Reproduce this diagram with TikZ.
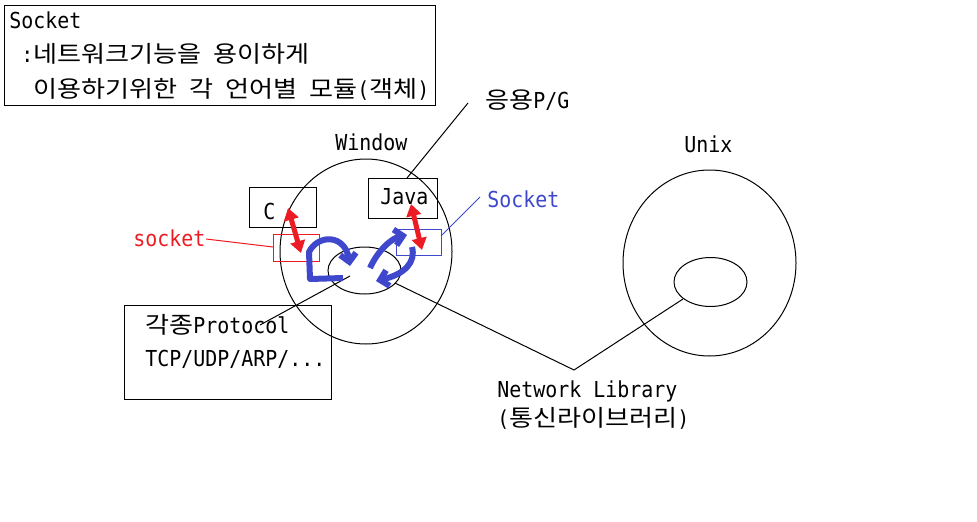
\documentclass[tikz,border=0pt]{standalone}
\usepackage{fontspec}
\setmainfont[FakeStretch=0.906]{DejaVu Sans Mono}
\newfontfamily\hangulfont[Scale=1.05,FakeStretch=1.13]{Noto Sans CJK KR}
\newcommand\krtxt[1]{{\hangulfont #1}}
\usetikzlibrary{arrows.meta,shapes.geometric,fit}
\definecolor{pred}{HTML}{ED1C24}
\definecolor{pblue}{HTML}{3F48CC}
\begin{document}
\begin{tikzpicture}[x=0.75pt,y=-0.75pt,
  txt/.style={anchor=base west, inner sep=0pt, font=\fontsize{16.5}{19}\selectfont},
  thinln/.style={line width=0.75pt},
  boxn/.style={draw, inner sep=0pt, line width=0.75pt},
  ringn/.style={ellipse, draw, inner sep=0pt, line width=0.75pt},
  redarr/.style={pred, line width=3.75pt, {Triangle[length=9pt,width=11pt]}-{Triangle[length=9pt,width=11pt]}},
  bluarr/.style={pblue, line width=4.5pt, line join=round, -{Straight Barb[length=6pt,width=12pt]}}]
\fill[white] (0,0) rectangle (977,521);
\useasboundingbox (0,0) rectangle (977,521);

% top explanation box
\coordinate (tb1) at (4,5); \coordinate (tb2) at (435,105);
\node[boxn, fit=(tb1)(tb2)] (topbox) {};
\node[txt] (t1) at (9,28) {Socket};
\node[txt] (t2) at (21,62) {:\krtxt{네트워크기능을} \krtxt{용이하게}};
\node[txt] (t3) at (33,97) {\krtxt{이용하기위한} \krtxt{각} \krtxt{언어별} \krtxt{모듈}(\krtxt{객체})};

% circles
\node[ringn, minimum width=129pt, minimum height=138.75pt] (win) at (366,251.5) {};
\node[ringn, minimum width=54.75pt, minimum height=35.25pt] (wincore) at (364.5,270.5) {};
\node[ringn, minimum width=129.75pt, minimum height=139.5pt] (unix) at (709.5,263) {};
\node[ringn, minimum width=54.75pt, minimum height=36.75pt] (unixcore) at (710.5,282) {};
\node[txt] (winlbl) at (335,150) {Window};
\node[txt] (unixlbl) at (684,152) {Unix};

% language boxes
\coordinate (c1) at (249,187); \coordinate (c2) at (316,227);
\node[boxn, fit=(c1)(c2)] (cbox) {};
\node[txt] (clbl) at (263,219) {C};
\coordinate (j1) at (368,178); \coordinate (j2) at (437,218);
\node[boxn, fit=(j1)(j2)] (jbox) {};
\node[txt] (jlbl) at (380,204) {Java};

% socket boxes
\coordinate (rs1) at (273,234); \coordinate (rs2) at (319,261);
\node[boxn, draw=pred, fit=(rs1)(rs2)] (rsock) {};
\coordinate (bs1) at (396,229); \coordinate (bs2) at (441,255);
\node[boxn, draw=pblue, fit=(bs1)(bs2)] (bsock) {};
\node[txt, text=pred] (rslbl) at (133,246) {socket};
\node[txt, text=pblue] (bslbl) at (487,207) {Socket};

% app label
\node[txt] (applbl) at (485,108) {\krtxt{응용}P/G};

% protocol box
\coordinate (p1) at (124,305); \coordinate (p2) at (331,399);
\node[boxn, fit=(p1)(p2)] (pbox) {};
\node[txt] (pl1) at (145,333) {\krtxt{각종}Protocol};
\node[txt] (pl2) at (145,366) {TCP/UDP/ARP/...};

% network library label
\node[txt] (nl1) at (497,397) {Network Library};
\node[txt] (nl2) at (497,426) {(\krtxt{통신라이브러리})};

% leader lines
\coordinate (appA) at (468,103); \coordinate (appB) at (407,178);
\draw[thinln] (appA) -- (appB);
\coordinate (rsA) at (206,239); \coordinate (rsB) at (273,247);
\draw[thinln, pred] (rsA) -- (rsB);
\coordinate (bsA) at (441,236); \coordinate (bsB) at (480,197);
\draw[thinln, pblue] (bsA) -- (bsB);
\coordinate (prA) at (260,325); \coordinate (prB) at (350,276);
\draw[thinln] (prA) -- (prB);
\coordinate (nlA) at (395,283); \coordinate (nlV) at (574,370); \coordinate (nlB) at (683,299);
\draw[thinln] (nlA) -- (nlV) -- (nlB);

% red double arrows
\coordinate (ra1) at (288,208); \coordinate (ra2) at (301,253);
\draw[redarr] (ra1) -- (ra2);
\coordinate (rb1) at (411,204); \coordinate (rb2) at (422,250);
\draw[redarr] (rb1) -- (rb2);

% blue circulating arrows
\coordinate (la0) at (343,278); \coordinate (la1) at (310,279); \coordinate (la2) at (309,252); \coordinate (la3) at (350,266);
\draw[bluarr] (la0) -- (la1) -- (la2) .. controls (318,234) and (345,234) .. (la3);
\coordinate (rc0) at (370,268); \coordinate (rc1) at (407,235);
\draw[bluarr] (rc0) .. controls (378,250) and (392,238) .. (rc1);
\coordinate (rd0) at (412,247); \coordinate (rd1) at (376,281);
\draw[bluarr] (rd0) .. controls (416,262) and (405,274) .. (rd1);
\end{tikzpicture}
\end{document}
